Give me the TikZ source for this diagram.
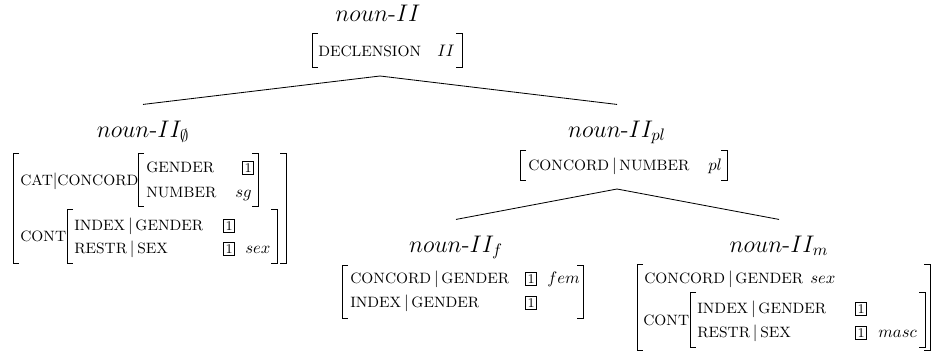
\documentclass[tikz,border=0pt]{standalone}
\newcommand{\tagone}{{\setlength{\fboxsep}{1pt}\setlength{\fboxrule}{0.4pt}\fbox{\footnotesize 1}}}
% feature names in small capitals
\newcommand{\ft}[1]{{\small\MakeUppercase{#1}}}
\newcommand{\fpath}[2]{\ft{#1}\,$|$\,\ft{#2}}
% square brackets: \lbrk{x}{top}{bottom}, \rbrk{x}{top}{bottom}
\newcommand{\lbrk}[3]{\draw[brk] (#1+6,#2) -- (#1,#2) -- (#1,#3) -- (#1+6,#3);}
\newcommand{\rbrk}[3]{\draw[brk] (#1-6,#2) -- (#1,#2) -- (#1,#3) -- (#1-6,#3);}
\begin{document}
\begin{tikzpicture}[x=0.6pt,y=-0.6pt,
  title/.style={font=\Large, inner sep=0pt, anchor=base},
  feat/.style={inner sep=0pt, anchor=base west},
  valr/.style={inner sep=0pt, anchor=base east},
  brk/.style={line width=0.4pt},
  branch/.style={line width=0.5pt}]
\useasboundingbox (0,0) rectangle (933,353);

% ---- root type ----
\node[title] (root) at (378,22) {$noun$-$II$};
\node[feat] (decl) at (318,57) {\ft{declension}};
\node[feat] (declv) at (437,57) {$II$};
\lbrk{312}{33}{67}\rbrk{462}{33}{67}
\coordinate (rootsplit) at (380,76);

% ---- left daughter ----
\node[title] (n0) at (143,137) {$noun$-$II_{\emptyset}$};
\node[feat] (catcon) at (20,185) {\ft{cat}$|$\ft{concord}};
\node[feat] (g0) at (146,172) {\ft{gender}};
\node[feat] (g0t) at (242,172) {\tagone};
\node[feat] (num0) at (146,197) {\ft{number}};
\node[valr] (sg) at (252,197) {$sg$};
\lbrk{138}{153}{206}\rbrk{258}{153}{206}
\node[feat] (cont0) at (20,241) {\ft{cont}};
\node[feat] (ig0) at (74,230) {\fpath{index}{gender}};
\node[feat] (ig0t) at (223,230) {\tagone};
\node[feat] (rs0) at (74,253) {\fpath{restr}{sex}};
\node[feat] (rs0t) at (223,253) {\tagone};
\node[feat] (sex0) at (245,253) {$sex$};
\lbrk{67}{209}{263}\rbrk{277}{209}{263}
\lbrk{13}{153}{263}\rbrk{286}{153}{263}

% ---- right daughter ----
\node[title] (npl) at (617,137) {$noun$-$II_{pl}$};
\node[feat] (cn) at (528,170) {\fpath{concord}{number}};
\node[feat] (pl) at (708,170) {$pl$};
\lbrk{520}{150}{180}\rbrk{727}{150}{180}
\coordinate (plsplit) at (617,189);

% ---- feminine ----
\node[title] (nf) at (456,252) {$noun$-$II_{f}$};
\node[feat] (cgf) at (350,283) {\fpath{concord}{gender}};
\node[feat] (cgft) at (525,283) {\tagone};
\node[feat] (fem) at (547,283) {$fem$};
\node[feat] (igf) at (350,307) {\fpath{index}{gender}};
\node[feat] (igft) at (525,307) {\tagone};
\lbrk{342}{265}{318}\rbrk{583}{265}{318}

% ---- masculine ----
\node[title] (nm) at (779,252) {$noun$-$II_{m}$};
\node[feat] (cgm) at (644,283) {\fpath{concord}{gender}};
\node[feat] (sexm) at (810,283) {$sex$};
\node[feat] (contm) at (643,325) {\ft{cont}};
\node[feat] (igm) at (697,313) {\fpath{index}{gender}};
\node[feat] (igmt) at (855,313) {\tagone};
\node[feat] (rsm) at (697,337) {\fpath{restr}{sex}};
\node[feat] (rsmt) at (855,337) {\tagone};
\node[feat] (masc) at (878,337) {$masc$};
\lbrk{690}{292}{347}\rbrk{925}{292}{347}
\lbrk{637}{264}{350}\rbrk{930}{264}{350}

% ---- branches ----
\draw[branch] (rootsplit) -- ([yshift=9.5pt]n0.north);
\draw[branch] (rootsplit) -- ([yshift=9.5pt]npl.north);
\draw[branch] (plsplit) -- ([yshift=9.5pt]nf.north);
\draw[branch] (plsplit) -- ([yshift=9.5pt]nm.north);
\end{tikzpicture}
\end{document}
